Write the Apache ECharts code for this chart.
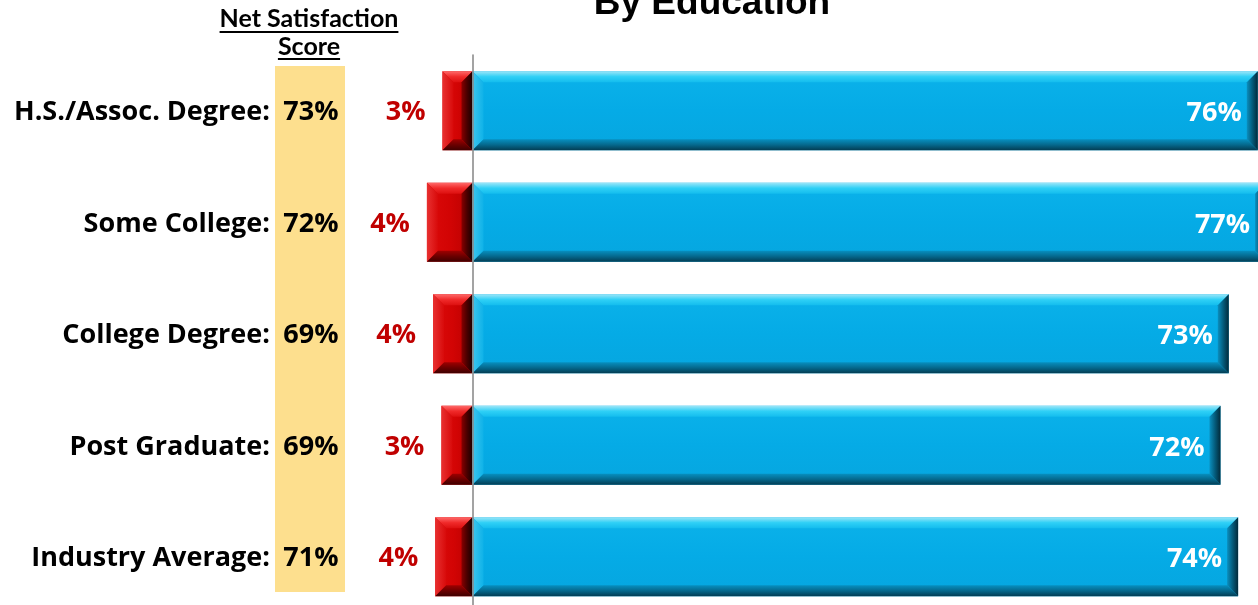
<!DOCTYPE html>
<html>
<head>
<meta charset="utf-8">
<script src="https://cdn.jsdelivr.net/npm/echarts@6/dist/echarts.min.js"></script>
<style>
  html, body { margin: 0; padding: 0; background: #ffffff; overflow: hidden; }
  /* drawing surface runs a little past the visible area so the longest bars are cut at the edge */
  #chart { width: 1320px; height: 620px; }
</style>
</head>
<body>
<div id="chart"></div>
<script>
// Education groups, top to bottom
const categories = ['H.S./Assoc. Degree:', 'Some College:', 'College Degree:', 'Post Graduate:', 'Industry Average:'];
// Share satisfied (blue, right of zero) and dissatisfied (red, left of zero), in percent
const satisfied = [75.8, 76.6, 73.0, 72.2, 73.9];
const dissatisfied = [2.9, 4.4, 3.8, 3.0, 3.6];
// Net satisfaction score shown in the yellow column
const netScore = [73, 72, 69, 69, 71];

const HEAD_FONT_FAMILY = 'Lato';
const FONT = '"Open Sans"';
const chart = echarts.init(document.getElementById('chart'));

// Width of a string in a given font, used to size the header underlines
function textWidth(str, font) {
  const ctx = document.createElement('canvas').getContext('2d');
  ctx.font = font;
  return ctx.measureText(str).width;
}

const lg = (x2, y2, stops) => new echarts.graphic.LinearGradient(0, 0, x2, y2,
  stops.map((c, i) => ({ offset: i / (stops.length - 1), color: c })));

const palettes = {
  blue: {
    face: lg(0, 1, ['#0bb2ea', '#05abe6', '#06a6df']),
    top: lg(0, 1, ['#9fe6f8', '#2fd0f6', '#14bdee']),
    left: lg(1, 0, ['#3cc6ef', '#0fb2e8']),
    right: lg(1, 0, ['#0a8fbf', '#045b7b', '#022a3a']),
    bottom: lg(0, 1, ['#078fbf', '#05688c', '#033c52']),
    label: '#ffffff', dy: 3
  },
  red: {
    face: lg(1, 0, ['#dc0a0a', '#d20404', '#b80000']),
    top: lg(0, 1, ['#ff6b6b', '#f02a2a', '#dd1010']),
    left: lg(1, 0, ['#e83030', '#d80a0a']),
    right: lg(1, 0, ['#8a0000', '#4a0000', '#1a0000']),
    bottom: lg(0, 1, ['#9e0000', '#6a0000', '#3e0000']),
    label: '#c00000', dy: 2
  }
};

// Bevelled bar: flat face framed by four shaded trapezoids, value label beside the end
function bevelRender(kind) {
  const pal = palettes[kind];
  return function (params, api) {
    const v = api.value(0);
    const idx = api.value(1);
    const a = api.coord([0, idx]);
    const b = api.coord([v, idx]);
    const h = api.size([0, 1])[1] * 0.71;
    const x0 = Math.min(a[0], b[0]), x1 = Math.max(a[0], b[0]);
    const y0 = a[1] - h / 2, y1 = a[1] + h / 2;
    const bv = Math.min(11, (x1 - x0) / 2.6);
    const poly = (pts, fill) => ({ type: 'polygon', shape: { points: pts }, style: { fill: fill } });
    const children = [
      { type: 'rect', shape: { x: x0, y: y0, width: x1 - x0, height: h }, style: { fill: pal.face } },
      poly([[x0, y0], [x1, y0], [x1 - bv, y0 + bv], [x0 + bv, y0 + bv]], pal.top),
      poly([[x0, y0], [x0 + bv, y0 + bv], [x0 + bv, y1 - bv], [x0, y1]], pal.left),
      poly([[x1, y0], [x1, y1], [x1 - bv, y1 - bv], [x1 - bv, y0 + bv]], pal.right),
      poly([[x0, y1], [x0 + bv, y1 - bv], [x1 - bv, y1 - bv], [x1, y1]], pal.bottom)
    ];
    const label = Math.round(Math.abs(v)) + '%';
    const lx = kind === 'blue' ? x1 - 16 : x0 - 17;
    children.push({ type: 'text', style: { text: label, x: lx, y: a[1] + pal.dy, align: 'right', verticalAlign: 'middle',
      fill: pal.label, font: 'bold 27px ' + FONT } });
    return { type: 'group', children: children };
  };
}

const headFont = 'bold 25px ' + HEAD_FONT_FAMILY;
const w1 = textWidth('Net Satisfaction', headFont);
const w2 = textWidth('Score', headFont);
const hx = 309;

const option = {
  animation: false,
  backgroundColor: '#ffffff',
  grid: { left: 368.9, top: 55, width: 932.4, height: 557.5, outerBoundsMode: 'none', containLabel: false },
  xAxis: {
    type: 'value', min: -10, max: 80, show: false
  },
  yAxis: {
    type: 'category', inverse: true, data: categories, z: 10,
    axisLine: { onZero: true, lineStyle: { color: '#8c8c8c', width: 1.6 } },
    axisTick: { show: false },
    splitLine: { show: false },
    axisLabel: {
      margin: 22,
      formatter: (val, i) => '{cat|' + val + '}{net|' + netScore[i] + '%}',
      rich: {
        cat: { fontSize: 27, fontWeight: 'bold', fontFamily: FONT, color: '#000000', padding: [4, 5, 0, 0] },
        net: { fontSize: 27, fontWeight: 'bold', fontFamily: FONT, color: '#000000', width: 72, align: 'center', padding: [4, 0, 0, 0] }
      }
    }
  },
  graphic: [
    { type: 'rect', z: -10, shape: { x: 275, y: 66, width: 70, height: 526 }, style: { fill: '#fddf8e' } },
    { type: 'text', style: { text: 'By Education', x: 712, y: 4, align: 'center', verticalAlign: 'middle',
      font: 'bold 37px "Liberation Sans", Arial', fill: '#000000' } },
    { type: 'text', style: { text: 'Net Satisfaction', x: hx, y: 19, align: 'center', verticalAlign: 'middle', font: headFont, fill: '#000000' } },
    { type: 'text', style: { text: 'Score', x: hx, y: 47, align: 'center', verticalAlign: 'middle', font: headFont, fill: '#000000' } },
    { type: 'rect', shape: { x: hx - w1 / 2, y: 31, width: w1, height: 2 }, style: { fill: '#000000' } },
    { type: 'rect', shape: { x: hx - w2 / 2, y: 58, width: w2, height: 2 }, style: { fill: '#000000' } }
  ],
  series: [
    {
      name: 'Dissatisfied', type: 'custom', encode: { x: 0, y: 1 },
      renderItem: bevelRender('red'),
      data: dissatisfied.map((v, i) => [-v, i])
    },
    {
      name: 'Satisfied', type: 'custom', encode: { x: 0, y: 1 },
      renderItem: bevelRender('blue'),
      data: satisfied.map((v, i) => [v, i])
    }
  ]
};

chart.setOption(option);
</script>
</body>
</html>
